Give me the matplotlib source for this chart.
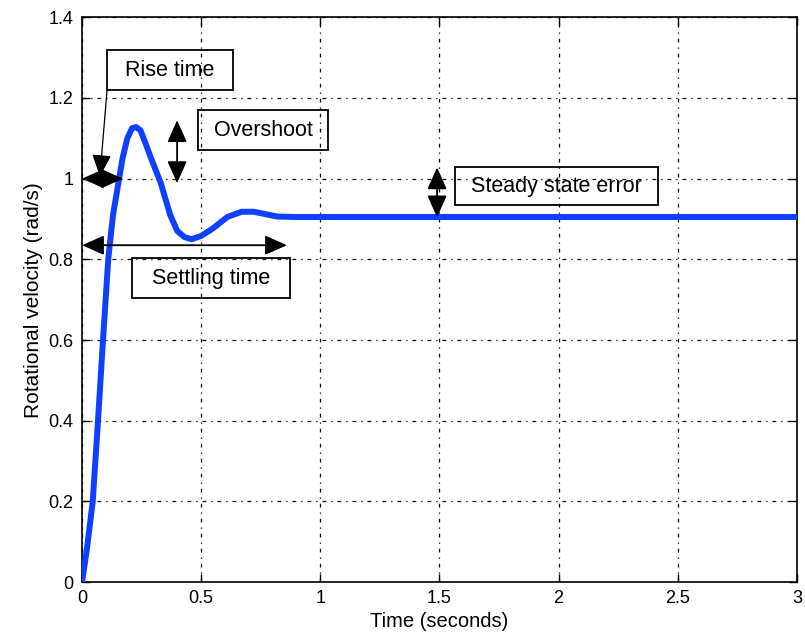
import numpy as np
import matplotlib
matplotlib.use('Agg')
import matplotlib.pyplot as plt
from matplotlib.patches import Rectangle
from matplotlib.ticker import FormatStrFormatter

plt.rcParams['font.family'] = ['Liberation Sans', 'DejaVu Sans']

# step response
time_s = [0.0, 0.02, 0.045, 0.067, 0.088, 0.11, 0.13, 0.15, 0.17, 0.19, 0.21,
          0.227, 0.245, 0.265, 0.29, 0.31, 0.33, 0.35, 0.37, 0.40, 0.43, 0.46,
          0.50, 0.55, 0.61, 0.67, 0.72, 0.77, 0.82, 0.9, 3.0]
velocity = [0.0, 0.08, 0.2, 0.4, 0.6, 0.8, 0.91, 0.98, 1.05, 1.10, 1.125,
            1.128, 1.12, 1.09, 1.05, 1.02, 0.99, 0.95, 0.91, 0.87, 0.855, 0.85,
            0.858, 0.877, 0.905, 0.918, 0.918, 0.912, 0.906, 0.905, 0.905]

x_ticks = [0, 0.5, 1, 1.5, 2, 2.5, 3]
y_ticks = [0, 0.2, 0.4, 0.6, 0.8, 1.0, 1.2, 1.4]

# annotation boxes: label, (x0, y0, x1, y1) in data units
boxes = [
    ('Rise time', (0.105, 1.219, 0.634, 1.318)),
    ('Overshoot', (0.487, 1.070, 1.032, 1.169)),
    ('Settling time', (0.21, 0.704, 0.873, 0.803)),
    ('Steady state error', (1.565, 0.934, 2.417, 1.028)),
]

# double arrows: (x0, y0) -> (x1, y1)
double_arrows = [
    ((0.0, 1.0), (0.172, 1.0)),        # rise
    ((0.399, 1.145), (0.399, 0.989)),  # overshoot
    ((0.0, 0.835), (0.86, 0.835)),     # settling
    ((1.49, 1.028), (1.49, 0.904)),    # steady state error
]

fig = plt.figure(figsize=(8.05, 6.41), dpi=100)
ax = fig.add_axes([0.1019, 0.092, 0.888, 0.881])

ax.plot(time_s, velocity, color='#1040ff', lw=4.3, solid_joinstyle='round',
        solid_capstyle='round', zorder=3)

ax.set_xlim(0, 3)
ax.set_ylim(0, 1.4)
ax.set_xticks(x_ticks)
ax.set_yticks(y_ticks)
ax.xaxis.set_major_formatter(FormatStrFormatter('%g'))
ax.yaxis.set_major_formatter(FormatStrFormatter('%g'))
ax.tick_params(direction='in', top=True, right=True, length=6, width=1,
               labelsize=13, pad=6)
for sp in ax.spines.values():
    sp.set_linewidth(1.2)

ax.grid(True, color='black', lw=0.9, linestyle=(0, (3, 4, 1, 4)))
ax.set_axisbelow(False)

ax.set_xlabel('Time (seconds)', fontsize=14.5, labelpad=3)
ax.set_ylabel('Rotational velocity (rad/s)', fontsize=15, labelpad=4)

for label, (x0, y0, x1, y1) in boxes:
    ax.add_patch(Rectangle((x0, y0), x1 - x0, y1 - y0, fill=False,
                           edgecolor='black', lw=1.3, zorder=4))
    ax.text((x0 + x1) / 2, (y0 + y1) / 2, label, ha='center', va='center',
            fontsize=15.5, zorder=5)

for (xa, ya), (xb, yb) in double_arrows:
    ax.annotate('', xy=(xb, yb), xytext=(xa, ya),
                arrowprops=dict(arrowstyle='<|-|>,head_length=0.9,head_width=0.4',
                                mutation_scale=15, color='black', lw=1.3,
                                shrinkA=0, shrinkB=0),
                zorder=6)

# leader line from the rise time box
ax.annotate('', xy=(0.075, 1.006), xytext=(0.105, 1.219),
            arrowprops=dict(arrowstyle='-|>,head_length=0.9,head_width=0.4',
                            mutation_scale=15, color='black', lw=0.9,
                            shrinkA=0, shrinkB=0),
            zorder=6)

fig.savefig('out.png', dpi=100)
